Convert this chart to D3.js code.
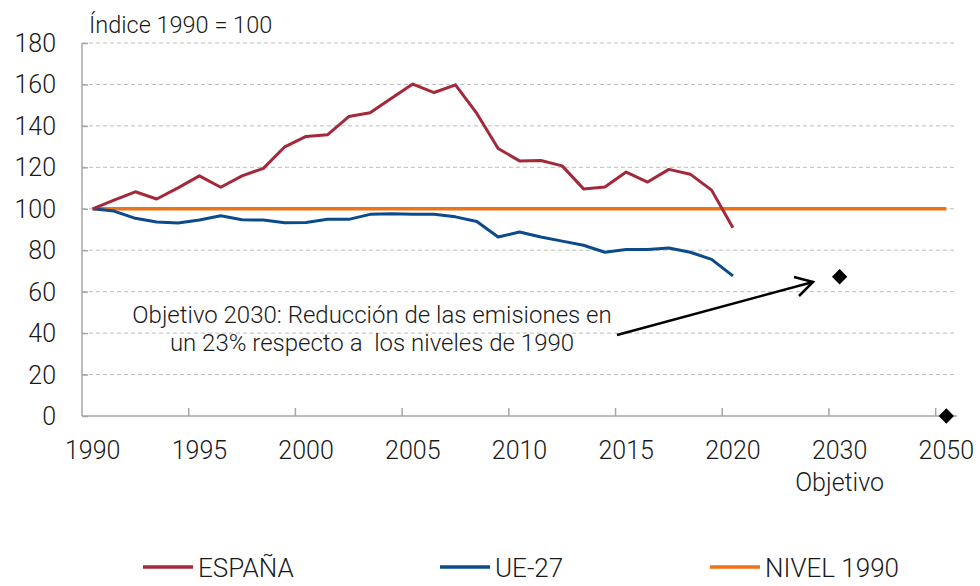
<!DOCTYPE html>
<html>
<head>
<meta charset="utf-8">
<script src="https://cdn.jsdelivr.net/npm/d3@7"></script>
<style>
  body { margin: 0; background: #fff; }
  text { font-family: Roboto, "Liberation Sans", Arial, sans-serif; font-weight: 300; fill: #1a1a1a; }
</style>
</head>
<body>
<div id="chart"></div>
<script>
/* DATA */
// 41 category slots: 1990..2020, blanks, 2030 objective at slot 35, 2050 at slot 40
const tickLabels = ["1990", "1995", "2000", "2005", "2010", "2015", "2020", "2030", "2050"];
const espana = [100, 104.2, 108.2, 104.7, 110.1, 115.9, 110.4, 115.9, 119.5, 129.9,
  134.9, 135.7, 144.5, 146.3, 153.3, 160.2, 156.1, 159.8, 146.0, 129.1,
  123.1, 123.3, 120.7, 109.6, 110.5, 117.7, 112.9, 119.0, 116.7, 109.0, 90.8];
const ue27 = [100, 98.9, 95.4, 93.6, 93.1, 94.6, 96.6, 94.7, 94.6, 93.3,
  93.4, 94.9, 94.9, 97.3, 97.6, 97.3, 97.4, 96.1, 93.9, 86.4,
  88.8, 86.4, 84.4, 82.4, 79.0, 80.3, 80.4, 81.1, 79.0, 75.6, 67.6];
const nivel1990 = 100;
const objetivos = [{ slot: 35, value: 67.2 }, { slot: 40, value: 0 }];
const yTicks = [0, 20, 40, 60, 80, 100, 120, 140, 160, 180];

const width = 980, height = 586;
const margin = { top: 43, left: 82, right: 23, bottom: 170 };

const svg = d3.select("#chart").append("svg")
  .attr("width", width).attr("height", height);

const slots = d3.range(0, 41);
const xScale = d3.scaleBand().domain(slots).range([margin.left, width - margin.right]).padding(0);
const xPos = i => xScale(i) + xScale.bandwidth() / 2;
const yScale = d3.scaleLinear().domain([0, 180]).range([height - margin.bottom, margin.top]);

// gridlines
svg.append("g")
  .selectAll("line")
  .data(yTicks.filter(d => d > 0))
  .join("line")
  .attr("x1", margin.left).attr("x2", width - margin.right)
  .attr("y1", d => yScale(d)).attr("y2", d => yScale(d))
  .attr("stroke", "#bdbdbd").attr("stroke-dasharray", "4,3");

// y axis
const yAxis = svg.append("g")
  .attr("transform", `translate(${margin.left},0)`)
  .call(d3.axisRight(yScale).tickValues(yTicks).tickSize(6).tickFormat(""));
yAxis.selectAll("line, path").attr("stroke", "#a6a6a6").attr("stroke-width", 1.5);
yAxis.select(".domain").attr("d", `M0,${yScale(180)}V${yScale(0)}`);
svg.append("g").selectAll("text")
  .data(yTicks).join("text")
  .attr("x", 56).attr("y", d => yScale(d) + 9)
  .attr("text-anchor", "end").attr("font-size", 25)
  .text(d => d);

// x axis
const xAxisG = svg.append("g")
  .attr("transform", `translate(0,${yScale(0)})`);
xAxisG.append("line")
  .attr("x1", margin.left).attr("x2", width - margin.right)
  .attr("stroke", "#a6a6a6").attr("stroke-width", 1.5);
xAxisG.selectAll("line.tick")
  .data(d3.range(5, 41, 5))
  .join("line").attr("class", "tick")
  .attr("x1", d => xScale(d)).attr("x2", d => xScale(d))
  .attr("y1", 0).attr("y2", -8)
  .attr("stroke", "#a6a6a6").attr("stroke-width", 1.5);
xAxisG.selectAll("text")
  .data(tickLabels)
  .join("text")
  .attr("x", (d, i) => xPos(i * 5))
  .attr("y", 43)
  .attr("text-anchor", "middle").attr("font-size", 25)
  .text(d => d);
xAxisG.append("text")
  .attr("x", xPos(35)).attr("y", 75)
  .attr("text-anchor", "middle").attr("font-size", 25)
  .text("Objetivo");

// title
svg.append("text")
  .attr("x", 89).attr("y", 33).attr("font-size", 23.5)
  .text("Índice 1990 = 100");

// lines
const line = d3.line().x((d, i) => xPos(i)).y(d => yScale(d));
svg.append("path").datum(slots.map(() => nivel1990))
  .attr("d", line).attr("fill", "none").attr("stroke", "#ef7215").attr("stroke-width", 3.5);
svg.append("path").datum(ue27)
  .attr("d", line).attr("fill", "none").attr("stroke", "#0b4a8b").attr("stroke-width", 3).attr("stroke-linejoin", "round");
svg.append("path").datum(espana)
  .attr("d", line).attr("fill", "none").attr("stroke", "#a5283a").attr("stroke-width", 3).attr("stroke-linejoin", "round");

// objective markers
svg.append("g").selectAll("path")
  .data(objetivos).join("path")
  .attr("d", d3.symbol(d3.symbolDiamond2, 150))
  .attr("transform", d => `translate(${xPos(d.slot)},${yScale(d.value)})`)
  .attr("fill", "#000");

// annotation
const ann = svg.append("g").attr("font-size", 24).attr("text-anchor", "middle");
ann.append("text").attr("x", 372).attr("y", 323).text("Objetivo 2030: Reducción de las emisiones en");
ann.append("text").attr("x", 372).attr("y", 351).style("white-space", "pre")
  .text("un 23% respecto a  los niveles de 1990");

svg.append("line")
  .attr("x1", 617).attr("y1", 335).attr("x2", 813).attr("y2", 282)
  .attr("stroke", "#000").attr("stroke-width", 2.5);
svg.append("path")
  .attr("d", "M794,277L813,282L799,296")
  .attr("fill", "none").attr("stroke", "#000").attr("stroke-width", 2.5);

// legend
const legendItems = [
  { name: "ESPAÑA", color: "#a5283a", x: 143 },
  { name: "UE-27", color: "#0b4a8b", x: 440 },
  { name: "NIVEL 1990", color: "#ef7215", x: 710 }
];
const legend = svg.append("g")
  .selectAll("g").data(legendItems).join("g")
  .attr("transform", d => `translate(${d.x},567)`);
legend.append("line").attr("x1", 0).attr("x2", 50)
  .attr("stroke", d => d.color).attr("stroke-width", 3.5);
legend.append("text").attr("font-size", 26)
  .attr("x", 55).attr("y", 10)
  .text(d => d.name);
</script>
</body>
</html>
